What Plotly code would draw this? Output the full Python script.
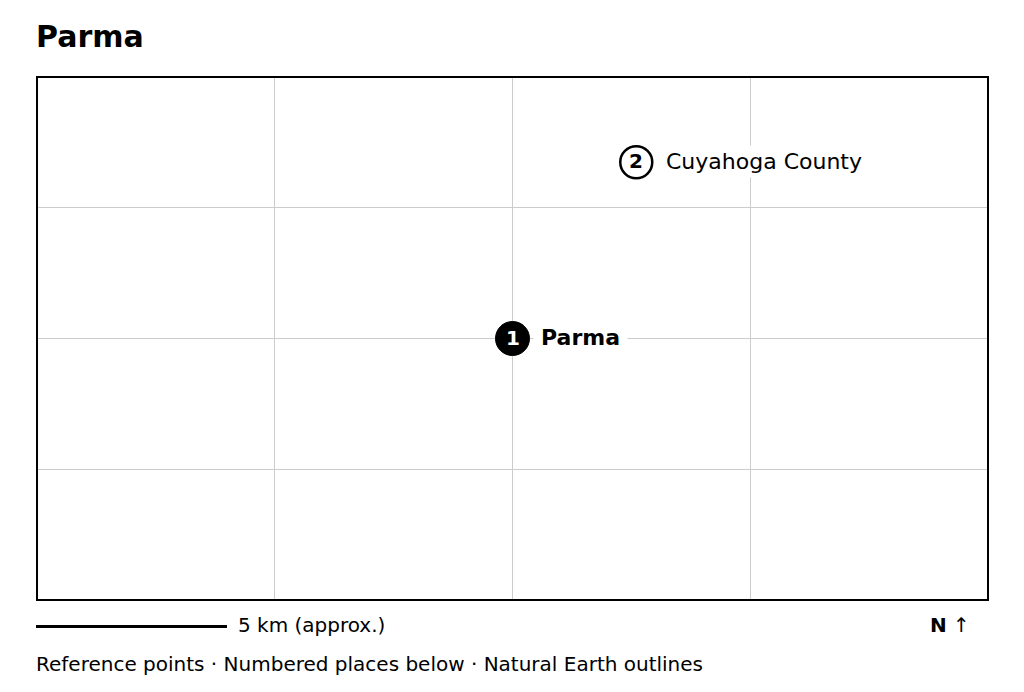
import plotly.graph_objects as go

title = "Parma"
lon_grid = [1, 2, 3]
lat_grid = [1, 2, 3]
place_names = ["Parma", "Cuyahoga County"]
place_nums = ["1", "2"]
place_x = [2.0, 2.52]
place_y = [2.0, 3.345]
scale_label = "5 km (approx.)"
north_label = "<b>N</b> ↑"
caption = "Reference points · Numbered places below · Natural Earth outlines"
x_range = [0.0063, 3.9937]
y_range = [0.0115, 3.9885]
FONT = "DejaVu Sans"

OFF = 8  # the page's own body margin
L, R, T, B = 38 - OFF, 987 - OFF, 78 - OFF, 599 - OFF
W, H = 1024 - 2 * OFF, 692 - 2 * OFF
PW, PH = R - L, B - T


def py(page_y):
    return (B - (page_y - OFF)) / PH


def px(page_x):
    return (page_x - OFF - L) / PW


fig = go.Figure()
fig.add_trace(go.Scatter(
    x=[place_x[0]], y=[place_y[0]], mode="markers",
    marker=dict(size=34, color="black", line=dict(color="black", width=1)),
    hoverinfo="skip", cliponaxis=False))
fig.add_trace(go.Scatter(
    x=[place_x[1]], y=[place_y[1]], mode="markers",
    marker=dict(size=32, color="white", line=dict(color="black", width=2.5)),
    hoverinfo="skip", cliponaxis=False))
for i, col in enumerate(["white", "black"]):
    fig.add_annotation(x=place_x[i], y=place_y[i], xref="x", yref="y", yshift=1,
                       xanchor="center", yanchor="middle", showarrow=False,
                       text="<b>" + place_nums[i] + "</b>",
                       font=dict(family=FONT, size=20, color=col))
fig.add_annotation(x=place_x[0], y=place_y[0], xref="x", yref="y", xshift=20, yshift=1,
                   xanchor="left", yanchor="middle", showarrow=False, bgcolor="white",
                   text="<b>" + place_names[0] + "</b>", borderpad=7,
                   font=dict(family=FONT, size=22, color="black"))
fig.add_annotation(x=place_x[1], y=place_y[1], xref="x", yref="y", xshift=26, yshift=1,
                   xanchor="left", yanchor="middle", showarrow=False, bgcolor="white",
                   text=place_names[1], borderpad=3,
                   font=dict(family=FONT, size=22, color="black"))

fig.add_annotation(xref="paper", yref="paper", x=px(34), y=py(36.5),
                   xanchor="left", yanchor="middle", showarrow=False,
                   text="<b>" + title + "</b>", font=dict(family=FONT, size=30, color="black"))
# scale bar
fig.add_shape(type="line", xref="paper", yref="paper",
              x0=px(36), x1=px(227), y0=py(626.5), y1=py(626.5),
              line=dict(color="black", width=3))
fig.add_annotation(xref="paper", yref="paper", x=px(236), y=py(625),
                   xanchor="left", yanchor="middle", showarrow=False, text=scale_label,
                   font=dict(family=FONT, size=20, color="black"))
fig.add_annotation(xref="paper", yref="paper", x=px(972), y=py(625),
                   xanchor="right", yanchor="middle", showarrow=False, text=north_label,
                   font=dict(family=FONT, size=20, color="black"))
fig.add_annotation(xref="paper", yref="paper", x=px(34), y=py(664),
                   xanchor="left", yanchor="middle", showarrow=False, text=caption,
                   font=dict(family=FONT, size=20, color="black"))

axis = dict(showticklabels=False, ticks="", zeroline=False, showgrid=True,
            gridcolor="#cccccc", gridwidth=1, showline=True, linecolor="black",
            linewidth=2, mirror=True)
fig.update_xaxes(range=x_range, tickvals=lon_grid, **axis)
fig.update_yaxes(range=y_range, tickvals=lat_grid, **axis)
fig.update_layout(width=W, height=H, showlegend=False, paper_bgcolor="white",
                  plot_bgcolor="white", hovermode=False,
                  margin=dict(l=L, r=W - R, t=T, b=H - B, autoexpand=False))
fig.write_html("out.html", config=dict(displayModeBar=False))
